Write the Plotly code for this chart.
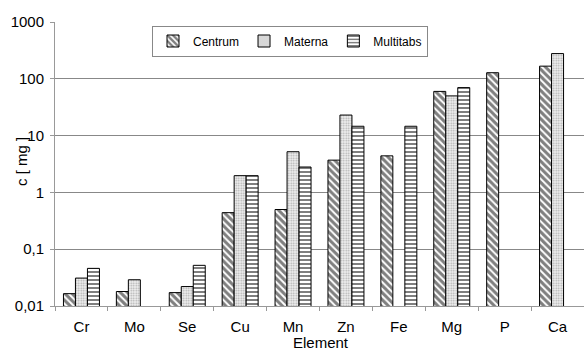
import plotly.graph_objects as go

elements = ["Cr", "Mo", "Se", "Cu", "Mn", "Zn", "Fe", "Mg", "P", "Ca"]
centrum = [0.0165, 0.018, 0.0172, 0.44, 0.50, 3.7, 4.4, 60, 128, 167]
materna = [0.031, 0.029, 0.022, 1.97, 5.2, 23, None, 50, None, 278]
multitabs = [0.046, None, 0.052, 1.97, 2.8, 14.6, 14.6, 70, None, None]

y_tickvals = [0.01, 0.1, 1, 10, 100, 1000]
y_ticktext = ["0,01", "0,1", "1", "10", "100", "1000"]

FONT = "Liberation Sans, Arial, sans-serif"

fig = go.Figure()
fig.add_bar(
    name="Centrum", x=elements, y=centrum,
    marker=dict(color="white", line=dict(color="black", width=1),
                pattern=dict(shape="\\", fgcolor="black", bgcolor="white", size=5, solidity=0.6)),
)
fig.add_bar(
    name="Materna", x=elements, y=materna,
    marker=dict(color="white", line=dict(color="black", width=1),
                pattern=dict(shape=".", fgcolor="#666666", bgcolor="#f2f2f2", size=2.5, solidity=0.4)),
)
fig.add_bar(
    name="Multitabs", x=elements, y=multitabs,
    marker=dict(color="white", line=dict(color="black", width=1),
                pattern=dict(shape="-", fgcolor="black", bgcolor="white", size=4, solidity=0.5)),
)

L, R, T, B = 55, 0, 22, 46
W, H = 584, 352
pw, ph = W - L - R, H - T - B

fig.update_layout(
    width=W, height=H,
    margin=dict(l=L, r=R, t=T, b=B, pad=0),
    paper_bgcolor="white", plot_bgcolor="white",
    font=dict(family=FONT, size=15, color="black"),
    barmode="group", bargap=0.32, bargroupgap=0,
    showlegend=True,
    legend=dict(
        orientation="h", x=(290 - L) / pw, y=(H - B - 41) / ph,
        xanchor="center", yanchor="middle",
        bgcolor="white", bordercolor="#888888", borderwidth=1,
        font=dict(family=FONT, size=12), itemwidth=30,
        tracegroupgap=0,
    ),
    annotations=[
        dict(text="c [ mg ]", textangle=-90, xref="paper", yref="paper",
             x=(21 - L) / pw, y=(H - B - 162) / ph, xanchor="center", yanchor="middle",
             showarrow=False, font=dict(size=15)),
        dict(text="Element", xref="paper", yref="paper",
             x=(321 - L) / pw, y=(H - B - 342) / ph, xanchor="center", yanchor="middle",
             showarrow=False, font=dict(size=15)),
    ],
)
fig.update_xaxes(
    type="category", showline=True, linecolor="#999999", linewidth=1,
    ticks="outside", tickson="boundaries", ticklen=4, tickcolor="#999999",
    showgrid=False, automargin=False, ticklabelstandoff=7,
    tickfont=dict(size=15),
)
fig.update_yaxes(
    type="log", range=[-2, 3],
    tickvals=y_tickvals, ticktext=y_ticktext,
    showline=True, linecolor="#999999", linewidth=1,
    ticks="outside", ticklen=4, tickcolor="#999999",
    showgrid=True, gridcolor="#888888", gridwidth=1, automargin=False,
    ticklabelstandoff=3,
    tickfont=dict(size=15),
)

fig.write_html("out.html", config={"displayModeBar": False},
               post_script="document.body.style.margin='0';document.body.style.overflow='hidden';")
